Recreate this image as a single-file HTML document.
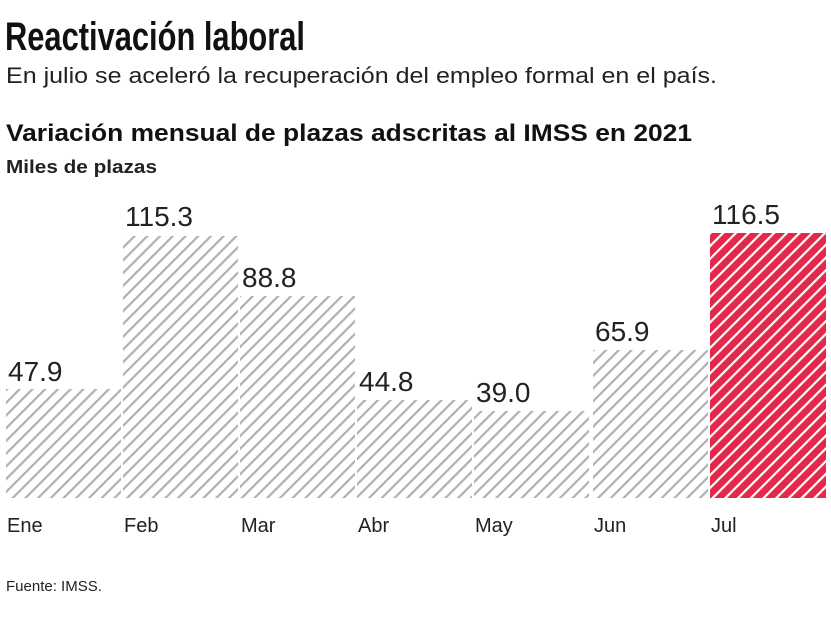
<!DOCTYPE html>
<html><head><meta charset="utf-8"><style>
body{margin:0;background:#fff;width:831px;height:620px;overflow:hidden;font-family:"Liberation Sans",sans-serif;}
</style></head><body>
<svg width="831" height="620" xmlns="http://www.w3.org/2000/svg">
<defs>
<pattern id="g" width="9" height="9" patternUnits="userSpaceOnUse" patternTransform="rotate(45)">
<rect width="9" height="9" fill="#fff"/><rect x="0" y="0" width="2.2" height="9" fill="#b0b0b0"/></pattern>
<pattern id="r" width="9" height="9" patternUnits="userSpaceOnUse" patternTransform="rotate(45)">
<rect width="9" height="9" fill="#e4284a"/><rect x="0" y="0" width="2.2" height="9" fill="#fff"/></pattern>
</defs>
<text x="5" y="50" font-size="40" font-weight="bold" fill="#111" textLength="300" lengthAdjust="spacingAndGlyphs">Reactivación laboral</text>
<text x="6" y="83" font-size="22" fill="#222" textLength="711" lengthAdjust="spacingAndGlyphs">En julio se aceleró la recuperación del empleo formal en el país.</text>
<text x="6" y="141" font-size="24" font-weight="bold" fill="#111" textLength="686" lengthAdjust="spacingAndGlyphs">Variación mensual de plazas adscritas al IMSS en 2021</text>
<text x="6" y="173" font-size="18" font-weight="bold" fill="#222" textLength="151" lengthAdjust="spacingAndGlyphs">Miles de plazas</text>
<g font-size="28" fill="#222">
<rect x="6" y="389" width="115" height="109" fill="url(#g)"/><text x="8" y="381">47.9</text>
<rect x="123" y="236" width="115" height="262" fill="url(#g)"/><text x="125" y="226">115.3</text>
<rect x="240" y="296" width="115" height="202" fill="url(#g)"/><text x="242" y="287">88.8</text>
<rect x="357" y="400" width="115" height="98" fill="url(#g)"/><text x="359" y="391">44.8</text>
<rect x="474" y="411" width="115" height="87" fill="url(#g)"/><text x="476" y="402">39.0</text>
<rect x="593" y="350" width="115" height="148" fill="url(#g)"/><text x="595" y="341">65.9</text>
<rect x="710" y="233" width="116" height="265" fill="url(#r)"/><text x="712" y="224">116.5</text>
</g>
<g font-size="20" fill="#222">
<text x="7" y="532">Ene</text><text x="124" y="532">Feb</text><text x="241" y="532">Mar</text>
<text x="358" y="532">Abr</text><text x="475" y="532">May</text><text x="594" y="532">Jun</text><text x="711" y="532">Jul</text>
</g>
<text x="6" y="591" font-size="15" fill="#222">Fuente: IMSS.</text>
</svg>
</body></html>
